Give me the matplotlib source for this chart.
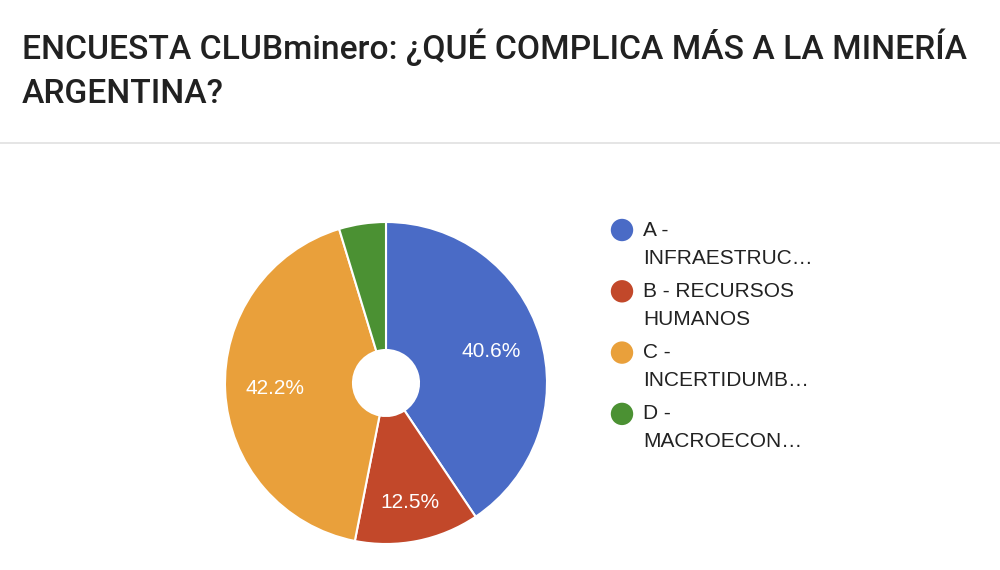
import numpy as np
import matplotlib
matplotlib.use("Agg")
import matplotlib.pyplot as plt
from matplotlib.lines import Line2D

# survey results
title_lines = ["ENCUESTA CLUBminero: ¿QUÉ COMPLICA MÁS A LA MINERÍA", "ARGENTINA?"]
legend_labels = [
    ["A -", "INFRAESTRUC…"],
    ["B - RECURSOS", "HUMANOS"],
    ["C -", "INCERTIDUMB…"],
    ["D -", "MACROECON…"],
]
shares = [40.6, 12.5, 42.2, 4.7]
colors = ["#4a6bc6", "#c2482a", "#e9a03b", "#4b9133"]

fig = plt.figure(figsize=(10, 5.7), dpi=100)
fig.patch.set_facecolor("white")

# title and separator
fig.text(0.022, 1 - 59 / 570, title_lines[0], fontsize=24.2, family="Roboto",
         weight="medium", color="#212121", va="baseline")
fig.text(0.022, 1 - 103 / 570, title_lines[1], fontsize=24.2, family="Roboto",
         weight="medium", color="#212121", va="baseline")
fig.add_artist(Line2D([0, 1], [1 - 143 / 570] * 2, color="#e0e0e0", lw=1.2))

# pie (donut with small hole)
cx, cy, R = 386, 570 - 383, 161
ax = fig.add_axes([(cx - R) / 1000, (cy - R) / 570, 2 * R / 1000, 2 * R / 570])
wedges, _ = ax.pie(shares, colors=colors, startangle=90, counterclock=False,
                   radius=1, wedgeprops=dict(width=1 - 33 / R, edgecolor="white", linewidth=1.5))
ax.set_xlim(-1, 1)
ax.set_ylim(-1, 1)
ax.set_aspect("auto")
ax.axis("off")

# percentage labels, small slices left unlabeled like Google Forms
label_r = [0.68, 0.76, 0.69, 0.7]
start = 0
for v, r in zip(shares, label_r):
    mid = np.deg2rad(90 - (start + v / 2) * 3.6)
    start += v
    if v < 5:
        continue
    ax.text(r * np.cos(mid), r * np.sin(mid), f"{v:.1f}%", ha="center", va="center",
            fontsize=15, family="Liberation Sans", color="white")

# legend drawn by hand in pixel coords
lax = fig.add_axes([0, 0, 1, 1])
lax.set_xlim(0, 1000)
lax.set_ylim(570, 0)
lax.axis("off")
for i, (lines, c) in enumerate(zip(legend_labels, colors)):
    y0 = 230 + i * 61.3
    lax.scatter([622], [y0], s=260, color=c, edgecolors="none")
    for j, line in enumerate(lines):
        lax.text(643, y0 + j * 28, line, fontsize=15, family="Liberation Sans",
                 color="#222222", va="center", ha="left")

fig.savefig("out.png", dpi=100, facecolor="white")
